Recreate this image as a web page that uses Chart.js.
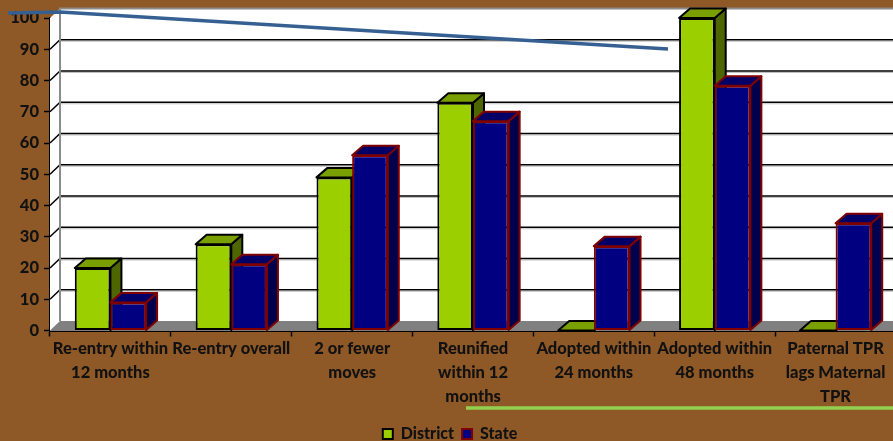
<!DOCTYPE html>
<html>
<head>
<meta charset="utf-8">
<style>
  html, body { margin: 0; padding: 0; background: #8f5927; }
  #wrap { width: 893px; height: 441px; position: relative; overflow: hidden; }
</style>
<script src="https://cdn.jsdelivr.net/npm/chart.js@4/dist/chart.umd.min.js"></script>
</head>
<body>
<div id="wrap"><canvas id="chart" width="896" height="441"></canvas></div>
<script>
const categories = [
  ['Re-entry within', '12 months'],
  ['Re-entry overall'],
  ['2 or fewer', 'moves'],
  ['Reunified', 'within 12', 'months'],
  ['Adopted within', '24 months'],
  ['Adopted within', '48 months'],
  ['Paternal TPR', 'lags Maternal', 'TPR']
];
const districtValues = [20, 27.6, 49, 72.9, 0, 100, 0];
const stateValues = [9, 21.2, 56.1, 67, 27, 78.3, 34.3];

const depthX = 11;
const depthY = 9.5;
const faces = {
  District: { top: '#7a9f00', side: '#4e6600', line: '#000000' },
  State: { top: '#000066', side: '#00004c', line: '#800000' }
};

function poly(ctx, pts, fill, stroke, width) {
  ctx.beginPath();
  pts.forEach((p, i) => i ? ctx.lineTo(p[0], p[1]) : ctx.moveTo(p[0], p[1]));
  ctx.closePath();
  if (fill) { ctx.fillStyle = fill; ctx.fill(); }
  if (stroke) { ctx.strokeStyle = stroke; ctx.lineWidth = width; ctx.stroke(); }
}

function drawDepth(ctx, meta, f) {
  ctx.save();
  ctx.lineJoin = 'round';
  meta.data.forEach(bar => {
    const b = bar.getProps(['x', 'y', 'base', 'width'], true);
    const l = b.x - b.width / 2;
    const r = b.x + b.width / 2;
    poly(ctx, [[r, b.y], [r + depthX, b.y - depthY], [r + depthX, b.base - depthY], [r, b.base]], f.side, f.line, 2);
    poly(ctx, [[l, b.y], [l + depthX, b.y - depthY], [r + depthX, b.y - depthY], [r, b.y]], f.top, f.line, 2);
  });
  ctx.restore();
}

// back wall, side wall and floor of the 3d box
const wallsPlugin = {
  id: 'walls',
  beforeDatasetsDraw(chart) {
    const ctx = chart.ctx;
    const y = chart.scales.y;
    const a = chart.chartArea;
    const top = y.getPixelForValue(100);
    const zero = y.getPixelForValue(0);
    ctx.save();
    poly(ctx, [[a.left, top], [a.left + 10, top - depthY], [a.right, top - depthY], [a.right, zero], [a.left, zero]], '#ffffff');
    y.ticks.forEach(t => {
      const py = y.getPixelForValue(t.value);
      if (t.value === 0 || t.value === 100) return;
      ctx.beginPath();
      ctx.moveTo(a.left + 10, py - depthY + 1.5);
      ctx.lineTo(a.right, py - depthY + 1.5);
      ctx.strokeStyle = '#c0c0c0';
      ctx.lineWidth = 1;
      ctx.stroke();
      ctx.beginPath();
      ctx.moveTo(a.left, py);
      ctx.lineTo(a.left + 10, py - depthY);
      ctx.lineTo(a.right, py - depthY);
      ctx.strokeStyle = '#000000';
      ctx.lineWidth = 1.5;
      ctx.stroke();
    });
    poly(ctx, [[a.left, zero], [a.left + 10, zero - depthY], [a.right, zero - depthY], [a.right, zero]], '#808080');
    ctx.strokeStyle = '#8c8c8c';
    ctx.lineWidth = 2;
    ctx.beginPath();
    ctx.moveTo(a.left + 10, zero - depthY);
    ctx.lineTo(a.left + 10, top - depthY);
    ctx.lineTo(a.right, top - depthY);
    ctx.stroke();
    ctx.restore();
  }
};

// State has to sit in front of District, so it is held back and drawn after it
const depthPlugin = {
  id: 'depth',
  beforeDatasetDraw(chart, args) {
    const name = chart.data.datasets[args.index].label;
    if (name === 'State') return false;
    drawDepth(chart.ctx, args.meta, faces[name]);
  },
  afterDatasetsDraw(chart) {
    const meta = chart.getDatasetMeta(1);
    drawDepth(chart.ctx, meta, faces.State);
    meta.data.forEach(bar => bar.draw(chart.ctx));
  }
};

// the two lines drawn over the chart on the slide, and the legend moved down
const overlayPlugin = {
  id: 'overlay',
  afterLayout(chart) {
    chart.legend.top += 11;
    chart.legend.bottom += 11;
    chart.legend.left += 2;
    chart.legend.right += 2;
  },
  afterDraw(chart) {
    const ctx = chart.ctx;
    ctx.save();
    ctx.strokeStyle = '#376092';
    ctx.lineWidth = 3.5;
    ctx.beginPath();
    ctx.moveTo(8, 13);
    ctx.lineTo(60, 12);
    ctx.lineTo(668, 49);
    ctx.stroke();
    ctx.strokeStyle = '#92d050';
    ctx.lineWidth = 3.5;
    ctx.beginPath();
    ctx.moveTo(466, 408);
    ctx.lineTo(896, 408);
    ctx.stroke();
    ctx.restore();
  }
};

new Chart(document.getElementById('chart'), {
  type: 'bar',
  data: {
    labels: categories,
    datasets: [
      { label: 'District', data: districtValues, backgroundColor: '#9bcf00', borderColor: '#000000', borderWidth: 2, borderSkipped: false },
      { label: 'State', data: stateValues, backgroundColor: '#000080', borderColor: '#800000', borderWidth: 2, borderSkipped: false }
    ]
  },
  plugins: [wallsPlugin, depthPlugin, overlayPlugin],
  options: {
    responsive: false,
    animation: false,
    layout: { padding: { top: 18, left: 0, right: 0, bottom: 0 } },
    categoryPercentage: 0.59,
    barPercentage: 1,
    scales: {
      x: {
        afterFit: s => { s.height = 76.5; },
        grid: { drawOnChartArea: false, drawTicks: true, tickLength: 6, tickColor: '#000000', tickWidth: 1.5 },
        border: { color: '#000000', width: 2 },
        ticks: {
          autoSkip: false,
          maxRotation: 0,
          padding: 0,
          color: '#111111',
          font: { family: 'Lato', weight: 900, size: 16.5, lineHeight: 1.455 }
        }
      },
      y: {
        min: 0,
        max: 100,
        afterFit: s => { s.width = 50; },
        grid: { drawOnChartArea: false, drawTicks: true, tickLength: 6, tickColor: '#000000', tickWidth: 1.5 },
        border: { color: '#000000', width: 2 },
        ticks: {
          stepSize: 10,
          padding: 5,
          color: '#111111',
          font: { family: 'Lato', weight: 900, size: 16.5 }
        }
      }
    },
    plugins: {
      tooltip: { enabled: false },
      legend: {
        position: 'bottom',
        labels: {
          boxWidth: 10,
          boxHeight: 10,
          padding: 8,
          color: '#111111',
          font: { family: 'Lato', weight: 900, size: 16 }
        }
      }
    }
  }
});
</script>
</body>
</html>
